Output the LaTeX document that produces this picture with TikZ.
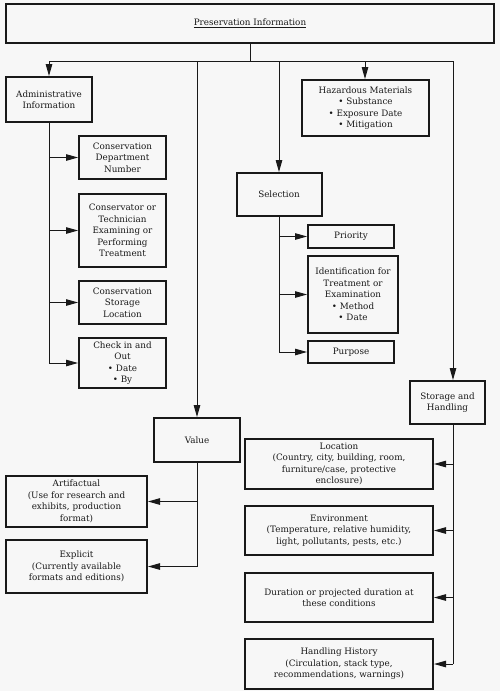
\documentclass[tikz,border=0pt]{standalone}
\usepackage{fontspec}
\setmainfont{DejaVu Serif}
\usetikzlibrary{arrows.meta}
\begin{document}
\begin{tikzpicture}[x=1pt,y=-1pt,
  box/.style={draw=black!90, line width=2pt, align=center, inner sep=1pt,
    font=\fontsize{8.8}{11.5}\selectfont, text=black!90},
  conn/.style={draw=black!90, line width=1pt},
  arr/.style={conn, -{Triangle[length=12pt,width=6.5pt]}}]
\fill[black!3] (0,0) rectangle (500,691);
\useasboundingbox (0,0) rectangle (500,691);

\node[box, minimum width=488pt, minimum height=39pt] (top) at (250,23.5) {\underline{Preservation Information}};

\node[box, minimum width=86pt, minimum height=45pt] (admin) at (49,99.5) {Administrative\\Information};
\node[box, minimum width=87pt, minimum height=43pt] (cdn) at (122.5,157.5) {Conservation\\Department\\Number};
\node[box, minimum width=87pt, minimum height=73pt] (cons) at (122.5,230.5) {Conservator or\\Technician\\Examining or\\Performing\\Treatment};
\node[box, minimum width=87pt, minimum height=43pt] (csl) at (122.5,302.5) {Conservation\\Storage\\Location};
\node[box, minimum width=87pt, minimum height=50pt] (check) at (122.5,363) {Check in and\\Out\\• Date\\• By};

\node[box, minimum width=127pt, minimum height=56pt] (haz) at (365.5,108) {Hazardous Materials\\• Substance\\• Exposure Date\\• Mitigation};

\node[box, minimum width=85pt, minimum height=43pt] (sel) at (279,194.5) {Selection};
\node[box, minimum width=86pt, minimum height=23pt] (prio) at (351,236.5) {Priority};
\node[box, minimum width=90pt, minimum height=77pt] (ident) at (353,294.5) {Identification for\\Treatment or\\Examination\\• Method\\• Date};
\node[box, minimum width=86pt, minimum height=22pt] (purp) at (351,352) {Purpose};

\node[box, minimum width=75pt, minimum height=43pt] (stor) at (447.5,402.5) {Storage and\\Handling};
\node[box, minimum width=86pt, minimum height=44pt] (value) at (197,440) {Value};

\node[box, minimum width=141pt, minimum height=51pt] (artif) at (76.5,501.5) {Artifactual\\(Use for research and\\exhibits, production\\format)};
\node[box, minimum width=141pt, minimum height=53pt] (expl) at (76.5,566.5) {Explicit\\(Currently available\\formats and editions)};

\node[box, minimum width=188pt, minimum height=50pt] (loc) at (339,464) {Location\\(Country, city, building, room,\\furniture/case, protective\\enclosure)};
\node[box, minimum width=188pt, minimum height=49pt] (env) at (339,530.5) {Environment\\(Temperature, relative humidity,\\light, pollutants, pests, etc.)};
\node[box, minimum width=188pt, minimum height=49pt] (dur) at (339,597.5) {Duration or projected duration at\\these conditions};
\node[box, minimum width=188pt, minimum height=50pt] (hh) at (339,664) {Handling History\\(Circulation, stack type,\\recommendations, warnings)};

% bus
\coordinate (busL) at (49,61);
\coordinate (busV) at (197,61);
\coordinate (busS) at (279,61);
\coordinate (busH) at (365,61);
\coordinate (busR) at (453,61);
\draw[conn] (top.south) -- (top.south |- busL);
\draw[conn] (busL) -- (busR);
\draw[arr] (busL) -- (admin.north);
\draw[arr] (busV) -- (value.north);
\draw[arr] (busS) -- (sel.north);
\draw[arr] (busH) -- (busH |- haz.north);
\draw[arr] (busR) -- (busR |- stor.north);

% admin branch
\draw[conn] (admin.south) -- (admin.south |- check.west);
\draw[arr] (admin.south |- cdn.west) -- (cdn.west);
\draw[arr] (admin.south |- cons.west) -- (cons.west);
\draw[arr] (admin.south |- csl.west) -- (csl.west);
\draw[arr] (admin.south |- check.west) -- (check.west);

% selection branch
\draw[conn] (sel.south) -- (sel.south |- purp.west);
\draw[arr] (sel.south |- prio.west) -- (prio.west);
\draw[arr] (sel.south |- ident.west) -- (ident.west);
\draw[arr] (sel.south |- purp.west) -- (purp.west);

% value branch
\draw[conn] (value.south) -- (value.south |- expl.east);
\draw[arr] (value.south |- artif.east) -- (artif.east);
\draw[arr] (value.south |- expl.east) -- (expl.east);

% storage branch
\draw[conn] (busR |- stor.south) -- (busR |- hh.east);
\draw[arr] (busR |- loc.east) -- (loc.east);
\draw[arr] (busR |- env.east) -- (env.east);
\draw[arr] (busR |- dur.east) -- (dur.east);
\draw[arr] (busR |- hh.east) -- (hh.east);
\end{tikzpicture}
\end{document}
